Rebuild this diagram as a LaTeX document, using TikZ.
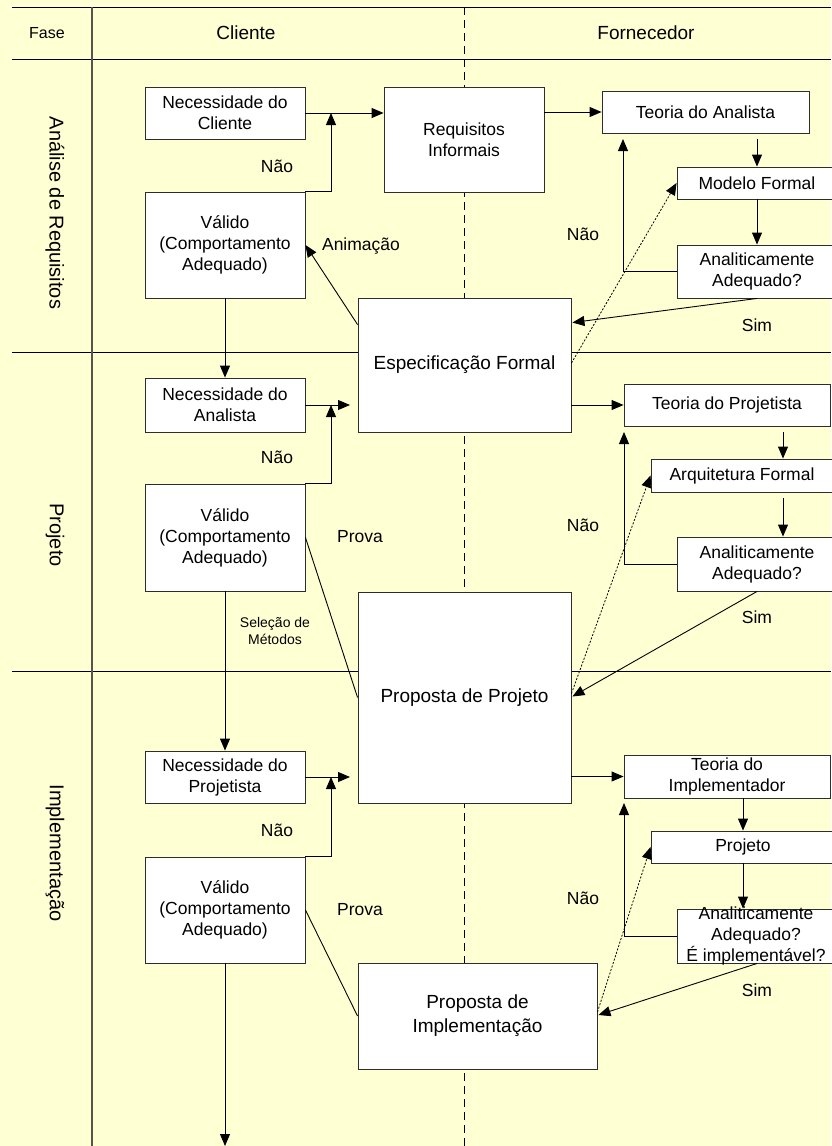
\documentclass[tikz,border=0pt]{standalone}
\usepackage{fontspec}
\setmainfont{Liberation Sans}
\usetikzlibrary{arrows.meta,calc}
\definecolor{bgy}{RGB}{255,255,212}
\definecolor{boxline}{RGB}{45,45,45}
\definecolor{laneline}{RGB}{85,85,75}
\begin{document}
\begin{tikzpicture}[x=1pt,y=-1pt,
  box/.style={draw=boxline, line width=0.9pt, fill=white, inner sep=0pt, align=center, font=\fontsize{17.5}{21}\selectfont},
  lbl/.style={inner sep=0pt, align=center, font=\fontsize{17.5}{21}\selectfont},
  hdr/.style={inner sep=0pt, font=\fontsize{19}{23}\selectfont},
  arr/.style={line width=0.9pt, -{Triangle[length=12pt,width=10pt]}},
  conn/.style={line width=0.9pt},
  dotarr/.style={line width=0.8pt, dash pattern=on 2pt off 1.6pt, -{Triangle[length=12pt,width=10pt]}},
  gridline/.style={line width=0.9pt, black},
]
\useasboundingbox (0,0) rectangle (831,1146);
\fill[bgy] (0,0) rectangle (831,1146);

% grid
\draw[gridline] (12,7) -- (831,7);
\draw[gridline] (12,59) -- (831,59);
\draw[gridline] (12,352) -- (831,352);
\draw[gridline] (12,671) -- (831,671);
\draw[line width=2pt, laneline] (92,7) -- (92,1146);
\draw[line width=0.9pt, dash pattern=on 8pt off 5pt] (464,7) -- (464,1146);

% headers
\node[inner sep=0pt, font=\fontsize{16}{19}\selectfont] (hfase) at (47,33) {Fase};
\node[hdr] (hcli) at (246,33) {Cliente};
\node[hdr] (hfor) at (646,33) {Fornecedor};
\node[hdr, font=\fontsize{20}{24}\selectfont, rotate=-90] (lane1) at (55,213) {Análise de Requisitos};
\node[hdr, font=\fontsize{20}{24}\selectfont, rotate=-90] (lane2) at (55,535) {Projeto};
\node[hdr, font=\fontsize{20}{24}\selectfont, rotate=-90] (lane3) at (55,853) {Implementação};

% lane 1
\node[box, minimum width=160pt, minimum height=52pt] (nc) at (225,113) {Necessidade do\\Cliente};
\node[box, minimum width=160pt, minimum height=105pt] (ri) at (464,139.5) {Requisitos\\Informais};
\node[box, minimum width=160pt, minimum height=106pt] (v1) at (225,245) {Válido\\(Comportamento\\Adequado)};
\node[box, minimum width=207pt, minimum height=42pt] (ta) at (705.5,112) {Teoria do Analista};
\node[box, minimum width=160pt, minimum height=32pt] (mf) at (757,183) {Modelo Formal};
\node[box, minimum width=160pt, minimum height=53pt] (aa1) at (757,271.5) {Analiticamente\\Adequado?};
\node[box, minimum width=213pt, minimum height=134pt, font=\fontsize{19}{23}\selectfont] (ef) at (464.5,365) {Especificação Formal};

% lane 2
\node[box, minimum width=160pt, minimum height=54pt] (na) at (225,405) {Necessidade do\\Analista};
\node[box, minimum width=160pt, minimum height=107pt] (v2) at (225,537.5) {Válido\\(Comportamento\\Adequado)};
\node[box, minimum width=206pt, minimum height=42pt] (tp) at (727,405) {Teoria do Projetista};
\node[box, minimum width=182pt, minimum height=33pt] (af) at (742,475.5) {Arquitetura Formal};
\node[box, minimum width=160pt, minimum height=54pt] (aa2) at (757,564) {Analiticamente\\Adequado?};
\node[box, minimum width=213pt, minimum height=211pt, font=\fontsize{19}{23}\selectfont] (pp) at (464.5,697.5) {Proposta de Projeto};

% lane 3
\node[box, minimum width=160pt, minimum height=52pt] (np) at (225,777) {Necessidade do\\Projetista};
\node[box, minimum width=160pt, minimum height=106pt] (v3) at (225,910) {Válido\\(Comportamento\\Adequado)};
\node[box, minimum width=206pt, minimum height=43pt] (ti) at (727,776.5) {Teoria do\\Implementador};
\node[box, minimum width=184pt, minimum height=32pt] (pj) at (743,847) {Projeto};
\node[box, minimum width=160pt, minimum height=54pt] (aa3) at (757,936) {};
\node[lbl] (aa3t) at (756,936) {Analiticamente\\Adequado?\\É implementável?};
\node[box, minimum width=239pt, minimum height=106pt, font=\fontsize{19}{24}\selectfont] (pi) at (477.5,1016) {Proposta de\\Implementação};

% coordinates
\coordinate (j1) at (331,113);
\coordinate (j2) at (331,405);
\coordinate (j3) at (331,777);
\coordinate (e2) at (350,405);
\coordinate (e3) at (350,777);
\coordinate (n1) at (623,139);
\coordinate (n2) at (624,432);
\coordinate (n3) at (624,803);
\coordinate (t1) at (757,139);
\coordinate (t2a) at (783,432);
\coordinate (t2b) at (783,498);
\coordinate (t3) at (743,798);
\coordinate (bot) at (225,1146);

% lane 1 connectors
\draw[arr] (nc.east) -- (nc.east -| ri.west);
\draw[arr] (v1.north east) -| (j1);
\draw[arr] ($(ef.north west)+(0,27)$) -- (v1.east);
\draw[arr] (v1.south) -- (na.north);
\draw[arr] (ri.east |- ta.west) -- (ta.west);
\draw[arr] (t1) -- (mf.north);
\draw[arr] (mf.south) -- (aa1.north);
\draw[arr] (aa1.west) -| (n1);
\draw[arr] (aa1.south) -- ($(ef.north east)+(1,25)$);
\draw[dotarr] ($(ef.east)+(0,-2)$) -- (mf.west);

% lane 2 connectors
\draw[arr] (na.east) -- (e2);
\draw[arr] (v2.north east) -| (j2);
\draw[conn] (v2.east) -- (pp.west);
\draw[arr] (v2.south) -- (np.north);
\draw[arr] (ef.east |- tp.west) -- (tp.west);
\draw[arr] (t2a) -- (t2a |- af.north);
\draw[arr] (t2b) -- (t2b |- aa2.north);
\draw[arr] (aa2.west) -| (n2);
\draw[arr] (aa2.south) -- ($(pp.east)+(1,-1)$);
\draw[dotarr] ($(pp.east)+(0,-4)$) -- (af.west);

% lane 3 connectors
\draw[arr] (np.east) -- (e3);
\draw[arr] (v3.north east) -| (j3);
\draw[conn] (v3.east) -- (pi.west);
\draw[arr] (v3.south) -- (bot);
\draw[arr] (pp.east |- ti.west) -- (ti.west);
\draw[arr] (t3) -- (pj.north);
\draw[arr] (pj.south) -- (pj.south |- aa3.north);
\draw[arr] (aa3.west) -| (n3);
\draw[arr] (aa3.south) -- ($(pi.east)+(1,-1)$);
\draw[dotarr] ($(pi.east)+(0,-4)$) -- (pj.west);

% labels
\node[lbl] (nao1) at (277,166) {Não};
\node[lbl] (nao2) at (277,457) {Não};
\node[lbl] (nao3) at (277,830) {Não};
\node[lbl] (anim) at (361,246) {Animação};
\node[lbl] (prova2) at (360,537) {Prova};
\node[lbl] (prova3) at (360,910) {Prova};
\node[lbl] (naor1) at (583,234) {Não};
\node[lbl] (naor2) at (583,525) {Não};
\node[lbl] (naor3) at (583,898) {Não};
\node[lbl] (sim1) at (757,325) {Sim};
\node[lbl] (sim2) at (757,617) {Sim};
\node[lbl] (sim3) at (757,990) {Sim};
\node[inner sep=0pt, align=center, font=\fontsize{14}{17}\selectfont] (selm) at (275,631) {Seleção de\\Métodos};
\end{tikzpicture}
\end{document}
